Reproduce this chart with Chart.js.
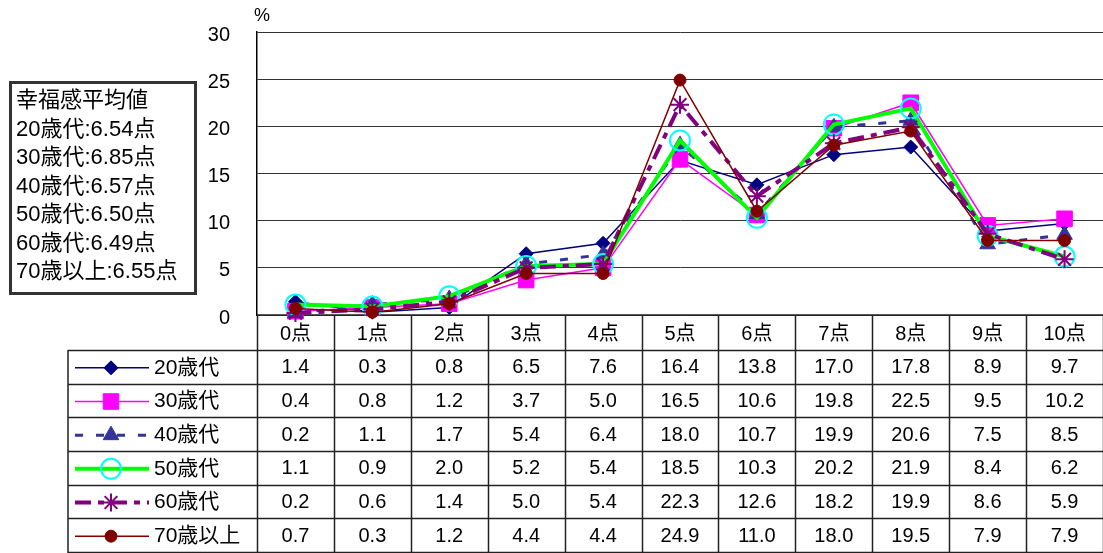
<!DOCTYPE html>
<html>
<head>
<meta charset="utf-8">
<script src="https://cdn.jsdelivr.net/npm/chart.js@4.4.0/dist/chart.umd.min.js"></script>
<style>
html, body { margin: 0; padding: 0; background: #fff; overflow: hidden; }
#wrap { width: 1103px; height: 553px; position: relative; }
</style>
</head>
<body>
<div id="wrap"><canvas id="chart"></canvas></div>
<script>
let categories = ["0点", "1点", "2点", "3点", "4点", "5点", "6点", "7点", "8点", "9点", "10点"];
let series_names = ["20歳代", "30歳代", "40歳代", "50歳代", "60歳代", "70歳以上"];

let age20 = [1.4, 0.3, 0.8, 6.5, 7.6, 16.4, 13.8, 17.0, 17.8, 8.9, 9.7];
let age30 = [0.4, 0.8, 1.2, 3.7, 5.0, 16.5, 10.6, 19.8, 22.5, 9.5, 10.2];
let age40 = [0.2, 1.1, 1.7, 5.4, 6.4, 18.0, 10.7, 19.9, 20.6, 7.5, 8.5];
let age50 = [1.1, 0.9, 2.0, 5.2, 5.4, 18.5, 10.3, 20.2, 21.9, 8.4, 6.2];
let age60 = [0.2, 0.6, 1.4, 5.0, 5.4, 22.3, 12.6, 18.2, 19.9, 8.6, 5.9];
let age70 = [0.7, 0.3, 1.2, 4.4, 4.4, 24.9, 11.0, 18.0, 19.5, 7.9, 7.9];

let averages = [6.54, 6.85, 6.57, 6.50, 6.49, 6.55];
let avg_title = "幸福感平均値";
let unit_label = "%";
let y_min = 0, y_max = 30, y_step = 5;

let all_series = [age20, age30, age40, age50, age60, age70];

// look of each series (Excel-like)
let series_styles = [
    {line: "#000080", width: 1.5, dash: [], point: "rectRot", radius: 7, fill: "#000080", border: "#000080", bw: 1},
    {line: "#FF00FF", width: 1.5, dash: [], point: "rect", radius: 11, fill: "#FF00FF", border: "#FF00FF", bw: 1},
    {line: "#333399", width: 3, dash: [8, 13], point: "triangle", radius: 9, fill: "#333399", border: "#333399", bw: 1},
    {line: "#00FF00", width: 4, dash: [], point: "circle", radius: 10, fill: "rgba(0,0,0,0)", border: "#00FFFF", bw: 2},
    {line: "#800080", width: 4, dash: [16, 7, 6, 7], point: "star", radius: 9, fill: "#800080", border: "#800080", bw: 2},
    {line: "#800000", width: 1.5, dash: [], point: "circle", radius: 6, fill: "#800000", border: "#800000", bw: 1},
];

const FONT = '"Liberation Sans", Arial, "Noto Sans CJK JP", sans-serif';

let datasets = all_series.map((vals, i) => {
    let st = series_styles[i];
    return {
        label: series_names[i],
        data: vals,
        borderColor: st.line,
        borderWidth: st.width,
        borderDash: st.dash,
        pointStyle: st.point,
        pointRadius: st.radius,
        pointBackgroundColor: st.fill,
        pointBorderColor: st.border,
        pointBorderWidth: st.bw,
        tension: 0,
        clip: false,
        order: series_names.length - i,
    };
});

function marker(ctx, st, x, y) {
    ctx.save();
    ctx.setLineDash([]);
    ctx.fillStyle = st.fill;
    ctx.strokeStyle = st.border;
    ctx.lineWidth = st.bw;
    Chart.helpers.drawPoint(ctx, {pointStyle: st.point, radius: st.radius, rotation: 0, borderWidth: st.bw}, x, y);
    ctx.restore();
}

function noPad(s) {
    s.paddingTop = 0; s.paddingBottom = 0; s.paddingLeft = 0; s.paddingRight = 0;
}

// data table under the plot
let dataTable = {
    id: "dataTable",
    beforeDatasetsDraw(chart) {
        const {ctx, chartArea, scales} = chart;
        const colW = (chartArea.right - chartArea.left) / categories.length;
        const headBottom = chartArea.bottom + 35;
        const rowH = (chart.height - 1 - headBottom) / series_names.length;
        const legLeft = 68;
        ctx.save();
        ctx.strokeStyle = "#222";
        ctx.lineWidth = 1.5;
        ctx.beginPath();
        ctx.moveTo(chartArea.left, chartArea.bottom);
        ctx.lineTo(chart.width, chartArea.bottom);
        for (let r = 0; r <= series_names.length; r++) {
            let y = Math.round(headBottom + r * rowH) + 0.5;
            ctx.moveTo(legLeft, y);
            ctx.lineTo(chart.width, y);
        }
        ctx.moveTo(legLeft, headBottom);
        ctx.lineTo(legLeft, chart.height);
        for (let c = 0; c <= categories.length; c++) {
            let x = Math.round(chartArea.left + c * colW) + 0.5;
            ctx.moveTo(x, chartArea.bottom);
            ctx.lineTo(x, chart.height);
        }
        ctx.stroke();

        ctx.fillStyle = "#000";
        ctx.textBaseline = "middle";
        for (let r = 0; r < series_names.length; r++) {
            let yc = headBottom + (r + 0.5) * rowH + 1;
            ctx.font = "20px " + FONT;
            ctx.textAlign = "center";
            for (let c = 0; c < categories.length; c++) {
                let x = scales.x.getPixelForValue(c);
                ctx.fillText(all_series[r][c].toFixed(1), x, yc);
            }
            // legend key
            let st = series_styles[r];
            ctx.save();
            ctx.strokeStyle = st.line;
            ctx.lineWidth = st.width;
            ctx.setLineDash(st.dash);
            ctx.beginPath();
            ctx.moveTo(75, yc);
            ctx.lineTo(149, yc);
            ctx.stroke();
            ctx.restore();
            marker(ctx, st, 111, yc);
            ctx.font = "21px " + FONT;
            ctx.textAlign = "left";
            ctx.fillText(series_names[r], 154, yc);
        }
        ctx.restore();
    },
    afterDraw(chart) {
        const {ctx} = chart;
        ctx.save();
        // average box
        ctx.strokeStyle = "#333";
        ctx.lineWidth = 3;
        ctx.strokeRect(10.5, 82.5, 185, 211);
        ctx.fillStyle = "#000";
        ctx.font = "22px " + FONT;
        ctx.textAlign = "left";
        ctx.textBaseline = "middle";
        let lines = [avg_title].concat(series_names.map((n, i) => n + ":" + averages[i].toFixed(2) + "点"));
        lines.forEach((t, i) => ctx.fillText(t, 16, 101 + i * 28.5));
        // unit
        ctx.font = "18px " + FONT;
        ctx.textAlign = "center";
        ctx.fillText(unit_label, 262, 16);
        ctx.restore();
    }
};

new Chart(document.getElementById("chart"), {
    type: "line",
    data: {labels: categories, datasets: datasets},
    options: {
        responsive: true,
        maintainAspectRatio: false,
        animation: false,
        layout: {autoPadding: false, padding: {top: 32, left: 0, right: 0, bottom: 0}},
        plugins: {
            legend: {display: false},
            tooltip: {enabled: false},
        },
        scales: {
            x: {
                offset: true,
                grid: {display: false, drawTicks: false},
                border: {display: false},
                ticks: {color: "#000", font: {size: 20, family: FONT}, padding: 7, maxRotation: 0, autoSkip: false},
                afterFit(s) { s.height = 238; noPad(s); },
            },
            y: {
                min: y_min,
                max: y_max,
                ticks: {stepSize: y_step, color: "#000", font: {size: 20, family: FONT}, padding: 27, labelOffset: 3},
                grid: {color: "#333", lineWidth: 1, drawTicks: false},
                border: {display: true, color: "#000", width: 1.5},
                afterFit(s) { s.width = 257; noPad(s); },
            },
        },
    },
    plugins: [dataTable],
});
</script>
</body>
</html>
